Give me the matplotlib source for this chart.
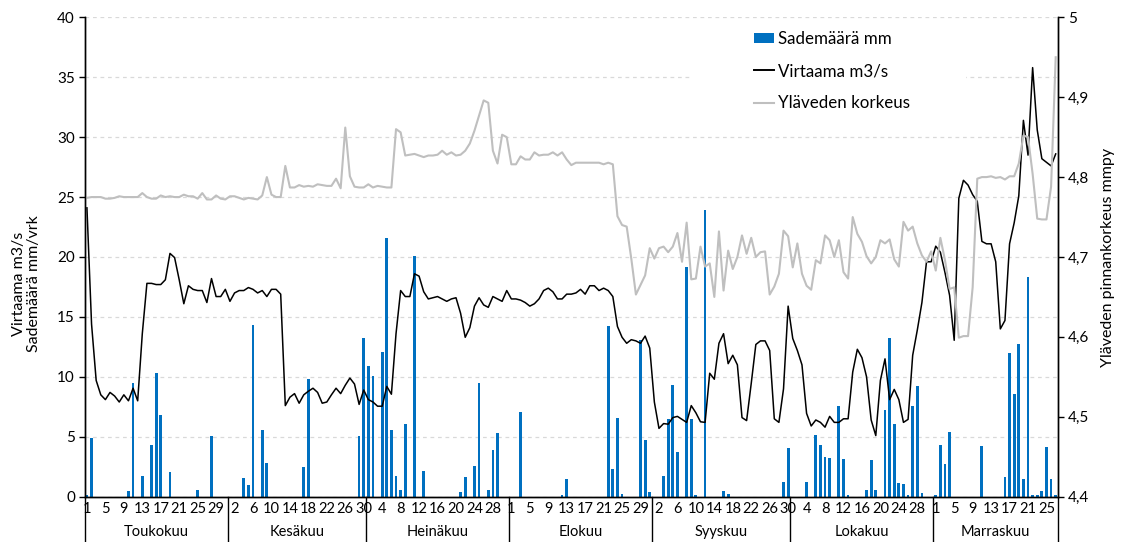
import numpy as np
import matplotlib
matplotlib.use("Agg")
from matplotlib import pyplot as plt
from matplotlib.patches import Patch, Rectangle
from matplotlib.lines import Line2D
from matplotlib.ticker import FuncFormatter

plt.rcParams['font.family'] = ['Lato', 'DejaVu Sans']

months = ["Toukokuu", "Kesäkuu", "Heinäkuu", "Elokuu", "Syyskuu", "Lokakuu", "Marraskuu"]
month_len = [31, 30, 31, 31, 30, 31, 27]

# sademäärä mm/vrk
rain_may = [0.1, 4.9, 0, 0, 0, 0, 0, 0, 0, 0.45, 9.5, 0, 1.75, 0, 4.35, 10.3, 6.85, 0, 2.05, 0,
            0, 0, 0, 0, 0.55, 0, 0, 5.1, 0, 0, 0]
rain_jun = [0, 0, 0, 1.55, 0.95, 14.3, 0, 5.6, 2.85, 0, 0, 0, 0, 0, 0, 0, 2.5, 9.85, 0, 0,
            0, 0, 0, 0, 0, 0, 0, 0, 5.05, 13.2]
rain_jul = [10.9, 10.05, 0, 12.1, 21.6, 5.55, 1.75, 0.55, 6.05, 0, 20.1, 0, 2.15, 0, 0, 0, 0, 0, 0, 0,
            0.35, 1.65, 0, 2.55, 9.45, 0, 0.55, 3.9, 5.35, 0, 0]
rain_aug = [0, 0, 7.05, 0, 0, 0, 0, 0, 0, 0, 0, 0.1, 1.45, 0, 0, 0, 0, 0, 0, 0,
            0, 14.25, 2.35, 6.55, 0.25, 0, 0, 0, 13.1, 4.75, 0.35]
rain_sep = [0, 0, 1.75, 6.45, 9.35, 3.75, 0, 19.15, 6.45, 0.1, 0, 23.95, 0, 0, 0, 0.45, 0.25, 0, 0, 0,
            0, 0, 0, 0, 0, 0, 0, 0, 1.25, 4.05]
rain_oct = [0, 0, 0, 1.25, 0, 5.15, 4.35, 3.35, 3.25, 0, 7.55, 3.15, 0.1, 0, 0, 0, 0.55, 3.05, 0.55, 0,
            7.25, 13.25, 6.05, 1.15, 1.05, 0.1, 7.55, 9.25, 0.3, 0, 0]
rain_nov = [0.1, 4.35, 2.75, 5.4, 0, 0, 0, 0, 0, 0, 4.25, 0, 0, 0, 0, 1.65, 11.95, 8.55, 12.75, 1.45,
            18.35, 0.1, 0.1, 0.45, 4.15, 1.45, 0.1]

# virtaama m3/s
flow_may = [24.1, 14.4, 9.7, 8.5, 8.1, 8.7, 8.4, 7.9, 8.5, 8.0, 9.05, 8.0, 13.6, 17.8, 17.8, 17.7, 17.7, 18.1, 20.3, 19.95,
            18.1, 16.1, 17.6, 17.3, 17.2, 17.2, 16.2, 18.2, 16.7, 16.7, 17.3]
flow_jun = [16.3, 17.0, 17.2, 17.2, 17.45, 17.3, 17.0, 17.2, 16.7, 17.3, 17.3, 16.9, 7.6, 8.3, 8.6, 7.8, 8.5, 8.8, 9.05, 8.7,
            7.8, 7.9, 8.5, 9.05, 8.6, 9.3, 9.9, 9.4, 7.7, 8.9]
flow_jul = [8.1, 7.9, 7.55, 7.55, 9.2, 8.55, 13.6, 17.2, 16.7, 16.7, 18.6, 18.4, 17.1, 16.5, 16.6, 16.7, 16.5, 16.3, 16.5, 16.6,
            15.3, 13.3, 14.1, 15.9, 16.6, 16.0, 15.8, 16.7, 16.5, 16.3, 17.2]
flow_aug = [16.5, 16.5, 16.4, 16.2, 15.9, 16.1, 16.5, 17.2, 17.4, 17.1, 16.5, 16.5, 16.9, 16.9, 17.0, 17.3, 16.9, 17.6, 17.6, 17.2,
            17.4, 17.2, 16.7, 14.2, 13.3, 12.8, 13.1, 13.0, 12.8, 13.4, 12.4]
flow_sep = [7.9, 5.7, 6.1, 6.05, 6.6, 6.7, 6.45, 6.2, 7.6, 7.0, 6.25, 6.2, 10.3, 9.8, 12.8, 13.6, 11.1, 11.8, 11.0, 6.6,
            6.35, 9.45, 12.7, 13.0, 13.0, 12.2, 6.5, 6.2, 9.0, 15.9]
flow_oct = [13.2, 12.2, 11.0, 6.95, 5.9, 6.4, 6.2, 5.8, 6.7, 6.2, 6.2, 6.5, 6.5, 10.4, 12.3, 11.6, 10.0, 6.4, 5.1, 9.7,
            11.5, 8.1, 8.95, 8.1, 6.2, 6.45, 11.8, 13.9, 16.2, 19.6, 19.6]
flow_nov = [20.9, 20.4, 18.7, 16.8, 13.05, 24.9, 26.4, 26.0, 25.2, 24.65, 21.3, 21.1, 21.1, 19.6, 14.0, 14.7, 21.1, 22.85, 25.1, 31.4,
            28.5, 35.8, 30.6, 28.2, 27.9, 27.6, 28.6]

# yläveden korkeus mmpy
level_may = [4.774, 4.775, 4.775, 4.775, 4.773, 4.773, 4.774, 4.776, 4.775, 4.775, 4.775, 4.775, 4.780, 4.775, 4.773, 4.773,
             4.777, 4.775, 4.776, 4.775, 4.775, 4.778, 4.776, 4.776, 4.773, 4.780, 4.772, 4.772, 4.777, 4.773, 4.772]
level_jun = [4.776, 4.776, 4.774, 4.772, 4.774, 4.773, 4.772, 4.777, 4.800, 4.778, 4.775, 4.775, 4.814, 4.787, 4.787, 4.790,
             4.788, 4.789, 4.788, 4.791, 4.790, 4.789, 4.789, 4.798, 4.786, 4.862, 4.801, 4.788, 4.787, 4.787]
level_jul = [4.791, 4.787, 4.789, 4.788, 4.787, 4.787, 4.860, 4.856, 4.827, 4.828, 4.829, 4.827, 4.825, 4.827, 4.827, 4.828,
             4.833, 4.828, 4.831, 4.827, 4.828, 4.833, 4.842, 4.858, 4.877, 4.896, 4.893, 4.833, 4.817, 4.853, 4.850]
level_aug = [4.816, 4.816, 4.826, 4.822, 4.822, 4.831, 4.827, 4.828, 4.828, 4.831, 4.827, 4.831, 4.822, 4.815, 4.818, 4.818,
             4.818, 4.818, 4.818, 4.818, 4.816, 4.818, 4.816, 4.751, 4.740, 4.738, 4.698, 4.653, 4.665, 4.677, 4.711]
level_sep = [4.698, 4.711, 4.713, 4.706, 4.713, 4.730, 4.694, 4.743, 4.672, 4.673, 4.713, 4.688, 4.692, 4.650, 4.732,
             4.658, 4.708, 4.685, 4.700, 4.727, 4.704, 4.724, 4.700, 4.706, 4.707, 4.653, 4.663, 4.679, 4.733, 4.726]
level_oct = [4.687, 4.717, 4.679, 4.664, 4.659, 4.696, 4.692, 4.727, 4.721, 4.700, 4.721, 4.681, 4.673, 4.750, 4.729, 4.719,
             4.701, 4.692, 4.700, 4.721, 4.717, 4.722, 4.697, 4.688, 4.744, 4.733, 4.738, 4.717, 4.702, 4.694, 4.707]
level_nov = [4.683, 4.724, 4.696, 4.660, 4.662, 4.599, 4.601, 4.601, 4.662, 4.798, 4.800, 4.800, 4.801, 4.799, 4.800,
             4.797, 4.801, 4.801, 4.817, 4.852, 4.850, 4.804, 4.748, 4.747, 4.747, 4.788, 4.950]

rain = rain_may + rain_jun + rain_jul + rain_aug + rain_sep + rain_oct + rain_nov
flow = flow_may + flow_jun + flow_jul + flow_aug + flow_sep + flow_oct + flow_nov
level = level_may + level_jun + level_jul + level_aug + level_sep + level_oct + level_nov

days = []
for n in month_len:
    days += list(range(1, n + 1))
x = np.arange(len(days))

fig = plt.figure(figsize=(11.21, 5.42), dpi=100)
ax = fig.add_axes([0.0755, 0.0836, 0.8683, 0.8845])
ax2 = ax.twinx()

ax.bar(x, rain, width=0.6, color='#0070C0', zorder=2)
ax.plot(x, flow, color='black', lw=1.1, zorder=3)
ax2.plot(x, level, color='#BFBFBF', lw=1.5)

ax.set_xlim(-0.5, len(days) - 0.5)
ax.set_ylim(0, 40)
ax.set_yticks(range(0, 41, 5))
ax2.set_ylim(4.4, 5.0)
ax2.set_yticks([4.4, 4.5, 4.6, 4.7, 4.8, 4.9, 5.0])


def comma(v, pos):
    if abs(v - round(v)) < 1e-9:
        return str(int(round(v)))
    return ('%.1f' % v).replace('.', ',')


ax2.yaxis.set_major_formatter(FuncFormatter(comma))

ax.set_axisbelow(True)
ax.grid(axis='y', color='#D9D9D9', ls=(0, (3, 3)), lw=0.9)
ax.add_patch(Rectangle((0.625, 0.775), 0.28, 0.215, transform=ax.transAxes,
                       facecolor='white', edgecolor='none', zorder=0.9))

for a in (ax, ax2):
    a.spines['top'].set_visible(False)
    for s in ('left', 'right', 'bottom'):
        a.spines[s].set_color('black')
        a.spines[s].set_linewidth(1.0)
ax.tick_params(axis='y', length=4, width=1, labelsize=11, pad=3)
ax2.tick_params(axis='y', length=4, width=1, labelsize=11, pad=3)

ax.set_xticks(x[::4])
ax.set_xticklabels([str(d) for d in days[::4]])
ax.tick_params(axis='x', length=0, labelsize=10.5, pad=4)

# kuukausirivi
edges = np.concatenate([[0], np.cumsum(month_len)]) - 0.5
for e in edges:
    ax.plot([e, e], [0, -0.095], color='black', lw=1.0,
            transform=ax.get_xaxis_transform(), clip_on=False)
for i, m in enumerate(months):
    ax.text((edges[i] + edges[i + 1]) / 2, -0.074, m, ha='center', va='center',
            fontsize=10.5, transform=ax.get_xaxis_transform())

fig.text(0.024, 0.476, "Virtaama m3/s\nSademäärä mm/vrk", rotation=90, ha='center', va='center',
         fontsize=11.5, linespacing=1.1)
fig.text(0.988, 0.525, "Yläveden pinnankorkeus mmpy", rotation=90, ha='center', va='center',
         fontsize=11.5)

handles = [Patch(facecolor='#0070C0', edgecolor='none'),
           Line2D([], [], color='black', lw=1.4),
           Line2D([], [], color='#BFBFBF', lw=1.5)]
labels = ["Sademäärä mm", "Virtaama m3/s", "Yläveden korkeus"]
ax2.legend(handles, labels, loc='upper left', bbox_to_anchor=(754 / 1121, 1 - 31 / 542),
           bbox_transform=fig.transFigure, frameon=False, fontsize=12.2, handlelength=1.2,
           handleheight=0.6, handletextpad=0.2, labelspacing=0.95, borderpad=0, borderaxespad=0)

fig.savefig('out.png', dpi=100)
